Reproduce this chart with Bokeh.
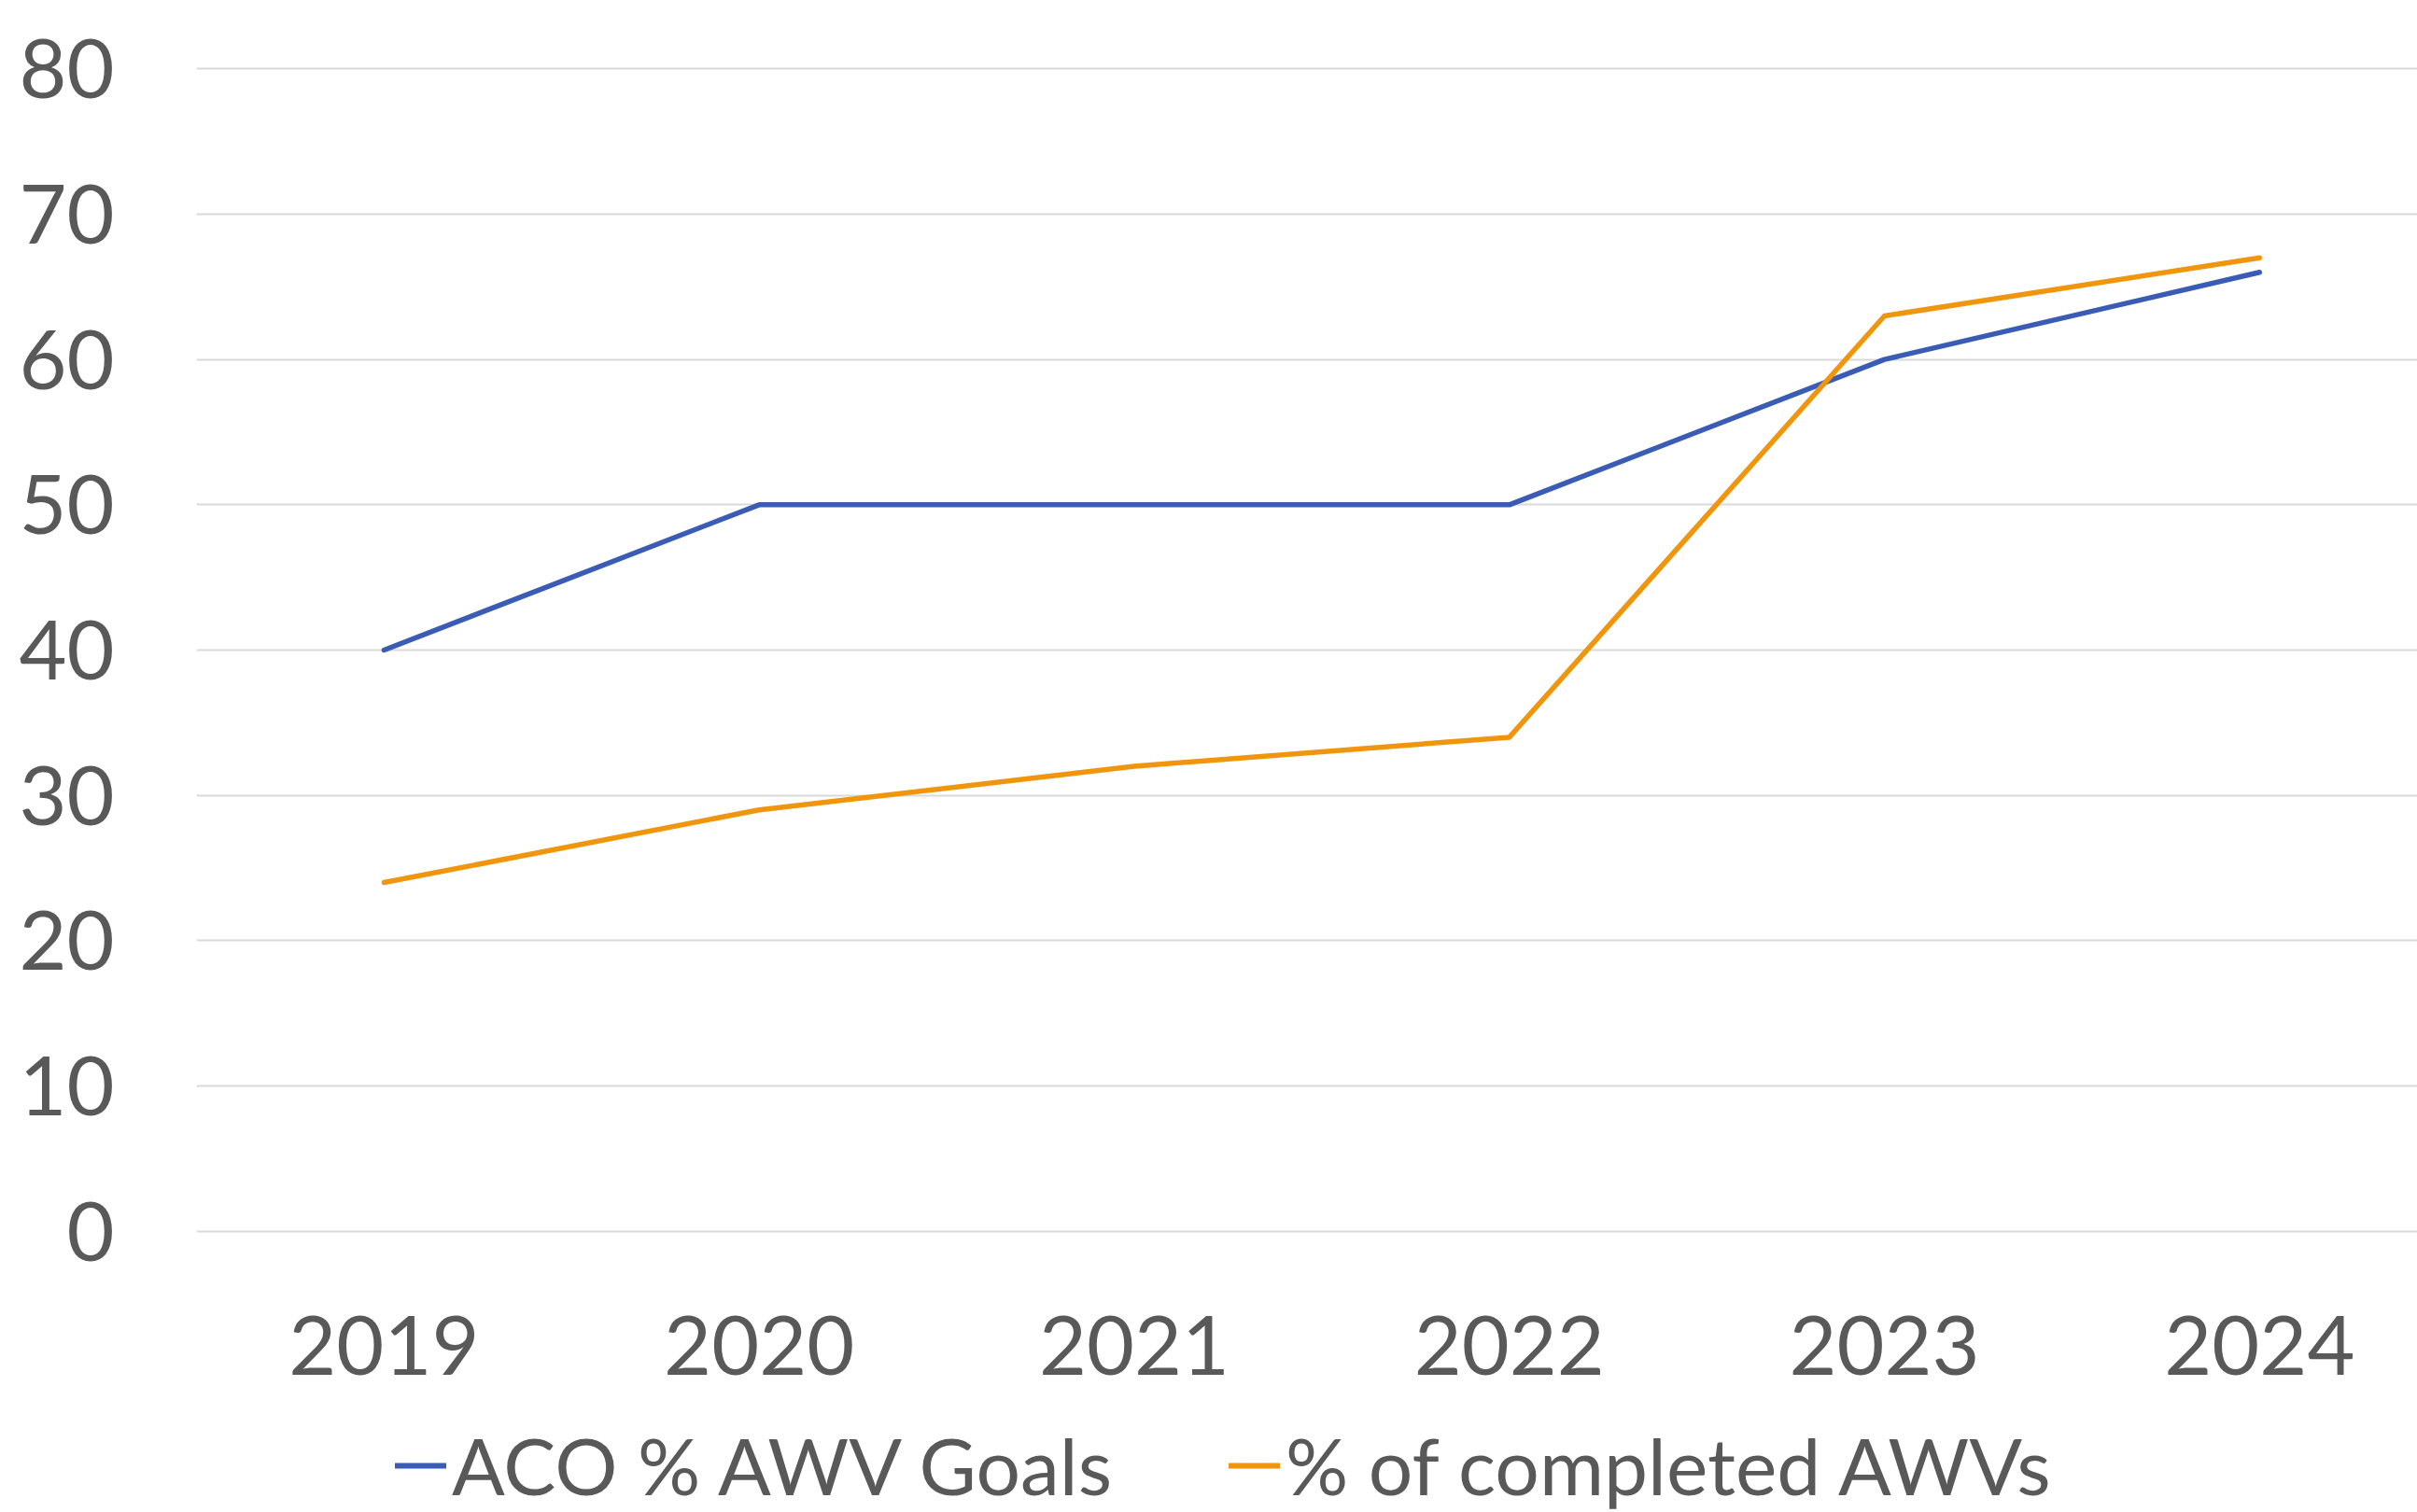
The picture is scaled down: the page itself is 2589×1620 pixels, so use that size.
from bokeh.plotting import figure
from bokeh.layouts import column
from bokeh.models import FixedTicker, Legend, LegendItem, Range1d
from bokeh.embed import file_html
from bokeh.resources import INLINE

years = [2019, 2020, 2021, 2022, 2023, 2024]
aco_goals = [40, 50, 50, 50, 60, 66]
completed_awvs = [24, 29, 32, 34, 63, 67]
y_ticks = [0, 10, 20, 30, 40, 50, 60, 70, 80]
series_names = ["ACO % AWV Goals", "% of completed AWVs"]
colors = ["#3A5CB5", "#F0960E"]

FONT = "Lato"
TXT = "#595959"
W = 2589
H_MAIN = 1512
H_LEG = 108
LW = 5.5

p = figure(width=W, height=H_MAIN, output_backend="svg", toolbar_location=None,
           x_range=Range1d(2018.5, 2024.421), y_range=Range1d(-0.15, 80.15),
           min_border_left=210, min_border_top=71, min_border_right=0,
           min_border_bottom=H_MAIN - 1321)
p.outline_line_color = None
p.background_fill_color = "white"
p.border_fill_color = "white"

p.line(years, aco_goals, line_color=colors[0], line_width=LW, line_join="round", line_cap="round")
p.line(years, completed_awvs, line_color=colors[1], line_width=LW, line_join="round", line_cap="round")

p.xgrid.grid_line_color = None
p.ygrid.grid_line_color = "#D9D9D9"
p.ygrid.grid_line_width = 2

p.yaxis.ticker = FixedTicker(ticks=y_ticks)
p.xaxis.ticker = FixedTicker(ticks=years)
for ax in (p.xaxis[0], p.yaxis[0]):
    ax.axis_line_color = None
    ax.major_tick_line_color = None
    ax.minor_tick_line_color = None
    ax.major_label_text_font = FONT
    ax.major_label_text_color = TXT
    ax.major_label_text_font_size = "88px"
p.yaxis.major_label_standoff = 82
p.xaxis.major_label_standoff = 82

# legend strip below the chart (series drawn outside its visible range, only the legend shows)
q = figure(width=W, height=H_LEG, output_backend="svg", toolbar_location=None,
           x_range=Range1d(0, 1), y_range=Range1d(0, 1),
           x_axis_location=None, y_axis_location=None,
           min_border_left=210, min_border_right=0, min_border_top=0, min_border_bottom=0)
q.outline_line_color = None
q.xgrid.grid_line_color = None
q.ygrid.grid_line_color = None
q.border_fill_color = "white"
q.background_fill_color = "white"
d1 = q.line(years, aco_goals, line_color=colors[0], line_width=6, line_cap="round")
d2 = q.line(years, completed_awvs, line_color=colors[1], line_width=6, line_cap="round")

legend = Legend(items=[LegendItem(label=series_names[0], renderers=[d1]),
                       LegendItem(label=series_names[1], renderers=[d2])],
                orientation="horizontal", location=(213, 0),
                label_text_font=FONT, label_text_color=TXT,
                label_text_font_size="84px",
                glyph_width=55, glyph_height=60, label_standoff=6,
                spacing=125, padding=0, margin=0,
                border_line_color=None, background_fill_alpha=0)
q.add_layout(legend, "center")

open("out.html", "w").write(file_html(column(p, q, spacing=0), INLINE))
